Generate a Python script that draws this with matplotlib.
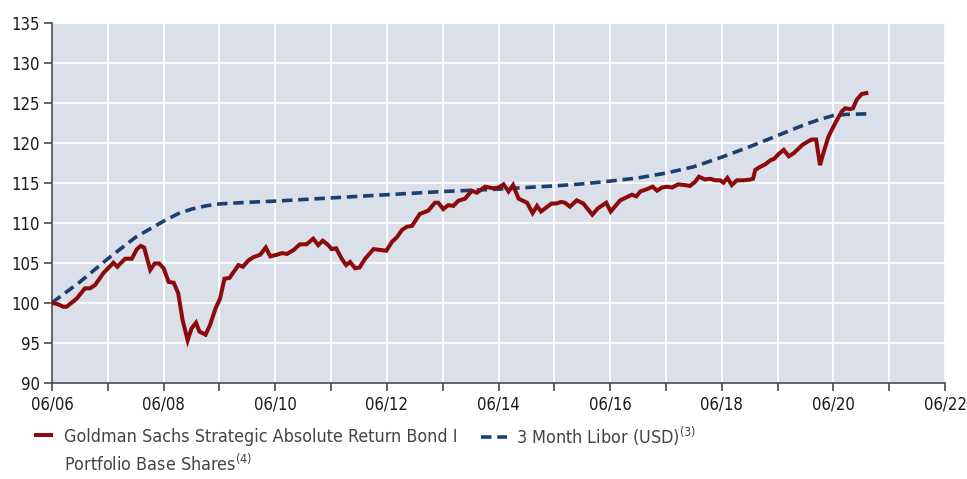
import matplotlib
matplotlib.use('Agg')
import matplotlib.pyplot as plt
from matplotlib.ticker import FixedLocator
from matplotlib import font_manager as fm

# use a condensed face if one is installed, otherwise Liberation Sans
cond_path = fm.findfont(fm.FontProperties(family='DejaVu Sans', stretch='condensed'))
if 'Condensed' in cond_path:
    base_font, stretch, tick_size, leg_size = 'DejaVu Sans', 'condensed', 12, 12.9
else:
    base_font, stretch, tick_size, leg_size = 'Liberation Sans', 'normal', 11.5, 13

plt.rcParams['font.family'] = [base_font, 'DejaVu Sans']
plt.rcParams['font.stretch'] = stretch
plt.rcParams['mathtext.fontset'] = 'custom'
plt.rcParams['mathtext.rm'] = base_font

# years since 06/2006
fund_t = [0, 0.11, 0.2, 0.26, 0.44, 0.59, 0.68, 0.77, 0.92, 1.10,
          1.17, 1.31, 1.43, 1.52, 1.59, 1.65, 1.76, 1.84, 1.92, 2.0,
          2.09, 2.18, 2.26, 2.34, 2.43, 2.50, 2.58, 2.64, 2.75, 2.83,
          2.93, 3.01, 3.09, 3.18, 3.25, 3.34, 3.42, 3.52, 3.61, 3.73,
          3.83, 3.91, 4.03, 4.12, 4.21, 4.33, 4.44, 4.56, 4.68, 4.77,
          4.85, 4.95, 5.01, 5.09, 5.19, 5.27, 5.34, 5.43, 5.51, 5.61,
          5.76, 5.88, 5.99, 6.09, 6.18, 6.27, 6.36, 6.45, 6.59, 6.74,
          6.86, 6.92, 7.01, 7.10, 7.19, 7.28, 7.40, 7.52, 7.61, 7.76,
          7.91, 8.00, 8.09, 8.18, 8.26, 8.36, 8.51, 8.61, 8.69, 8.76,
          8.95, 9.04, 9.12, 9.19, 9.28, 9.40, 9.52, 9.68, 9.78, 9.93,
          10.01, 10.18, 10.30, 10.39, 10.47, 10.54, 10.66, 10.76, 10.84, 10.93,
          11.02, 11.11, 11.22, 11.34, 11.43, 11.52, 11.59, 11.70, 11.79, 11.88,
          11.97, 12.03, 12.10, 12.18, 12.27, 12.39, 12.51, 12.56, 12.60, 12.69,
          12.78, 12.87, 12.94, 13.02, 13.11, 13.20, 13.29, 13.35, 13.44, 13.53,
          13.61, 13.69, 13.76, 13.82, 13.91, 14.0, 14.06, 14.15, 14.21, 14.30,
          14.35, 14.42, 14.51, 14.59]
fund_v = [100, 99.8, 99.5, 99.5, 100.5, 101.8, 101.8, 102.2, 103.7, 105,
          104.5, 105.5, 105.5, 106.7, 107.1, 106.9, 104.1, 104.9, 104.9, 104.3,
          102.6, 102.5, 101.2, 97.8, 95.3, 96.8, 97.5, 96.4, 96, 97.2,
          99.3, 100.5, 103, 103.1, 103.8, 104.7, 104.5, 105.3, 105.7, 106,
          106.9, 105.8, 106, 106.2, 106.1, 106.6, 107.3, 107.3, 108.0, 107.2,
          107.75, 107.2, 106.7, 106.8, 105.5, 104.7, 105.1, 104.3, 104.4, 105.5,
          106.7, 106.6, 106.5, 107.6, 108.2, 109.1, 109.5, 109.6, 111.1, 111.5,
          112.5, 112.5, 111.7, 112.2, 112.1, 112.75, 113.0, 114.0, 113.75, 114.5,
          114.3, 114.4, 114.8, 113.9, 114.7, 113.0, 112.5, 111.2, 112.1, 111.4,
          112.4, 112.4, 112.6, 112.5, 112.0, 112.8, 112.4, 111.0, 111.8, 112.5,
          111.4, 112.8, 113.2, 113.5, 113.3, 113.9, 114.2, 114.5, 114.0, 114.4,
          114.5, 114.4, 114.8, 114.7, 114.6, 115.1, 115.75, 115.4, 115.5, 115.3,
          115.3, 115.0, 115.6, 114.7, 115.3, 115.3, 115.4, 115.5, 116.6, 117.0,
          117.3, 117.8, 118.0, 118.6, 119.1, 118.3, 118.7, 119.1, 119.7, 120.1,
          120.4, 120.4, 117.2, 118.7, 120.75, 122.0, 122.8, 123.9, 124.3, 124.2,
          124.3, 125.4, 126.1, 126.2]

libor_t = [0, 0.5, 1.0, 1.5, 2.0, 2.25, 2.5, 2.75, 3.0, 3.5, 4, 5, 6, 7, 8, 9,
           9.5, 10, 10.5, 11, 11.5, 12, 12.5, 13, 13.5, 13.75, 14, 14.25, 14.59]
libor_v = [100, 102.6, 105.5, 108.2, 110.2, 111.1, 111.7, 112.1, 112.35, 112.55,
           112.7, 113.1, 113.5, 113.9, 114.2, 114.6, 114.85, 115.2, 115.6, 116.2,
           117.0, 118.2, 119.5, 120.9, 122.3, 122.9, 123.4, 123.55, 123.6]

year_ticks = list(range(0, 17))
year_labels = ['06/%02d' % (6 + y) if y % 2 == 0 else '' for y in year_ticks]
y_ticks = list(range(90, 136, 5))

fund_label = 'Goldman Sachs Strategic Absolute Return Bond I'
fund_label2 = 'Portfolio Base Shares$^{(4)}$'
libor_label = '3 Month Libor (USD)$^{(3)}$'

red = '#8b0a0a'
navy = '#1b3f6e'
txt_grey = '#444444'

fig = plt.figure(figsize=(9.67, 4.79), dpi=100)
ax = fig.add_axes([0.0538, 0.201, 0.9235, 0.7516])
ax.set_facecolor('#dadfea')

fund_line, = ax.plot(fund_t, fund_v, color=red, lw=2.9, solid_joinstyle='miter', zorder=3)
libor_line, = ax.plot(libor_t, libor_v, color=navy, lw=2.6, dashes=(2.9, 1.6), zorder=2)

ax.set_xlim(0, 16)
ax.set_ylim(90, 135)
ax.xaxis.set_major_locator(FixedLocator(year_ticks))
ax.set_xticklabels(year_labels)
ax.set_yticks(y_ticks)
ax.grid(True, color='white', lw=1.3)
ax.set_axisbelow(True)

for s in ['top', 'right']:
    ax.spines[s].set_visible(False)
for s in ['left', 'bottom']:
    ax.spines[s].set_color('#4a4a4a')
    ax.spines[s].set_linewidth(1.2)
ax.tick_params(direction='out', length=6, width=1.2, color='#4a4a4a',
               labelsize=tick_size, labelcolor='#1a1a1a', pad=3)

# two separate legends so each key gets its own length
leg1 = ax.legend([fund_line], [fund_label], loc='upper left',
                 bbox_to_anchor=(0.037, 0.107), bbox_transform=fig.transFigure,
                 frameon=False, fontsize=leg_size, handlelength=0.85, handletextpad=0.75,
                 borderaxespad=0, borderpad=0)
leg1.get_texts()[0].set_color(txt_grey)
ax.add_artist(leg1)

leg2 = ax.legend([libor_line], [libor_label], loc='upper left',
                 bbox_to_anchor=(0.497, 0.114), bbox_transform=fig.transFigure,
                 frameon=False, fontsize=leg_size, handlelength=1.5, handletextpad=0.5,
                 borderaxespad=0, borderpad=0)
leg2.get_texts()[0].set_color(txt_grey)

# second line of the fund label, lined up under the first
fig.canvas.draw()
bb = leg1.get_texts()[0].get_window_extent()
fig.text(bb.x0 / fig.bbox.width, 1 - 464 / 479, fund_label2, fontsize=leg_size,
         color=txt_grey, ha='left', va='center')

fig.savefig('out.png', dpi=100)
